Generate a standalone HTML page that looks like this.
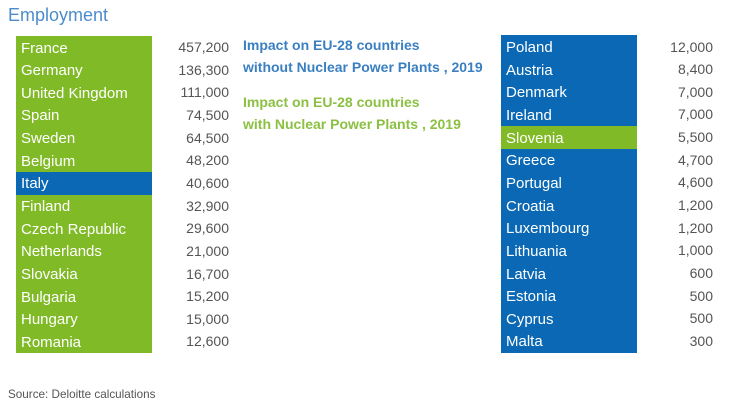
<!DOCTYPE html>
<html><head><meta charset="utf-8">
<style>
*{margin:0;padding:0;box-sizing:border-box}
body{width:730px;height:405px;background:#fff;position:relative;overflow:hidden;font-family:"Liberation Sans",Arial,sans-serif}
.t{position:absolute;white-space:nowrap}
.box{position:absolute}
.row{position:absolute;height:22.65px;line-height:22.65px;color:#fff;font-size:15px;padding-left:5px}
.row span{position:relative;top:1.5px}
.num{position:absolute;height:22.65px;line-height:22.65px;color:#555;font-size:14px;text-align:right;width:80px}
</style></head><body>
<div class="t" style="left:8px;top:4px;font-size:18px;color:#4d8ccb;line-height:22px">Employment</div>

<div class="box" style="left:16px;top:36px;width:136px;height:317px;background:#80ba27"></div>
<div class="box" style="left:501px;top:35px;width:136px;height:318px;background:#0a68b4"></div>

<div class="t" style="left:243px;top:34px;font-size:14px;font-weight:bold;color:#3a7fc2;line-height:22px">Impact on EU-28 countries<br>without Nuclear Power Plants , 2019</div>
<div class="t" style="left:243px;top:91px;font-size:14px;font-weight:bold;color:#8cc043;line-height:22px">Impact on EU-28 countries<br>with Nuclear Power Plants , 2019</div>

<div class="t" style="left:8px;top:388px;font-size:11.7px;color:#555;line-height:14px">Source: Deloitte calculations</div>

<!-- Left rows -->
<div class="row" style="left:16px;top:36px;width:136px"><span>France</span></div>
<div class="row" style="left:16px;top:58.65px;width:136px"><span>Germany</span></div>
<div class="row" style="left:16px;top:81.3px;width:136px"><span>United Kingdom</span></div>
<div class="row" style="left:16px;top:103.95px;width:136px"><span>Spain</span></div>
<div class="row" style="left:16px;top:126.6px;width:136px"><span>Sweden</span></div>
<div class="row" style="left:16px;top:149.25px;width:136px"><span>Belgium</span></div>
<div class="row" style="left:16px;top:171.9px;width:136px;background:#0a68b4"><span>Italy</span></div>
<div class="row" style="left:16px;top:194.55px;width:136px"><span>Finland</span></div>
<div class="row" style="left:16px;top:217.2px;width:136px"><span>Czech Republic</span></div>
<div class="row" style="left:16px;top:239.85px;width:136px"><span>Netherlands</span></div>
<div class="row" style="left:16px;top:262.5px;width:136px"><span>Slovakia</span></div>
<div class="row" style="left:16px;top:285.15px;width:136px"><span>Bulgaria</span></div>
<div class="row" style="left:16px;top:307.8px;width:136px"><span>Hungary</span></div>
<div class="row" style="left:16px;top:330.45px;width:136px"><span>Romania</span></div>

<div class="num" style="left:149px;top:36px">457,200</div>
<div class="num" style="left:149px;top:58.65px">136,300</div>
<div class="num" style="left:149px;top:81.3px">111,000</div>
<div class="num" style="left:149px;top:103.95px">74,500</div>
<div class="num" style="left:149px;top:126.6px">64,500</div>
<div class="num" style="left:149px;top:149.25px">48,200</div>
<div class="num" style="left:149px;top:171.9px">40,600</div>
<div class="num" style="left:149px;top:194.55px">32,900</div>
<div class="num" style="left:149px;top:217.2px">29,600</div>
<div class="num" style="left:149px;top:239.85px">21,000</div>
<div class="num" style="left:149px;top:262.5px">16,700</div>
<div class="num" style="left:149px;top:285.15px">15,200</div>
<div class="num" style="left:149px;top:307.8px">15,000</div>
<div class="num" style="left:149px;top:330.45px">12,600</div>

<!-- Right rows -->
<div class="row" style="left:501px;top:35.5px;width:136px"><span>Poland</span></div>
<div class="row" style="left:501px;top:58.15px;width:136px"><span>Austria</span></div>
<div class="row" style="left:501px;top:80.8px;width:136px"><span>Denmark</span></div>
<div class="row" style="left:501px;top:103.45px;width:136px"><span>Ireland</span></div>
<div class="row" style="left:501px;top:126.1px;width:136px;background:#80ba27"><span>Slovenia</span></div>
<div class="row" style="left:501px;top:148.75px;width:136px"><span>Greece</span></div>
<div class="row" style="left:501px;top:171.4px;width:136px"><span>Portugal</span></div>
<div class="row" style="left:501px;top:194.05px;width:136px"><span>Croatia</span></div>
<div class="row" style="left:501px;top:216.7px;width:136px"><span>Luxembourg</span></div>
<div class="row" style="left:501px;top:239.35px;width:136px"><span>Lithuania</span></div>
<div class="row" style="left:501px;top:262px;width:136px"><span>Latvia</span></div>
<div class="row" style="left:501px;top:284.65px;width:136px"><span>Estonia</span></div>
<div class="row" style="left:501px;top:307.3px;width:136px"><span>Cyprus</span></div>
<div class="row" style="left:501px;top:329.95px;width:136px"><span>Malta</span></div>

<div class="num" style="left:633px;top:35.5px">12,000</div>
<div class="num" style="left:633px;top:58.15px">8,400</div>
<div class="num" style="left:633px;top:80.8px">7,000</div>
<div class="num" style="left:633px;top:103.45px">7,000</div>
<div class="num" style="left:633px;top:126.1px">5,500</div>
<div class="num" style="left:633px;top:148.75px">4,700</div>
<div class="num" style="left:633px;top:171.4px">4,600</div>
<div class="num" style="left:633px;top:194.05px">1,200</div>
<div class="num" style="left:633px;top:216.7px">1,200</div>
<div class="num" style="left:633px;top:239.35px">1,000</div>
<div class="num" style="left:633px;top:262px">600</div>
<div class="num" style="left:633px;top:284.65px">500</div>
<div class="num" style="left:633px;top:307.3px">500</div>
<div class="num" style="left:633px;top:329.95px">300</div>
</body></html>
